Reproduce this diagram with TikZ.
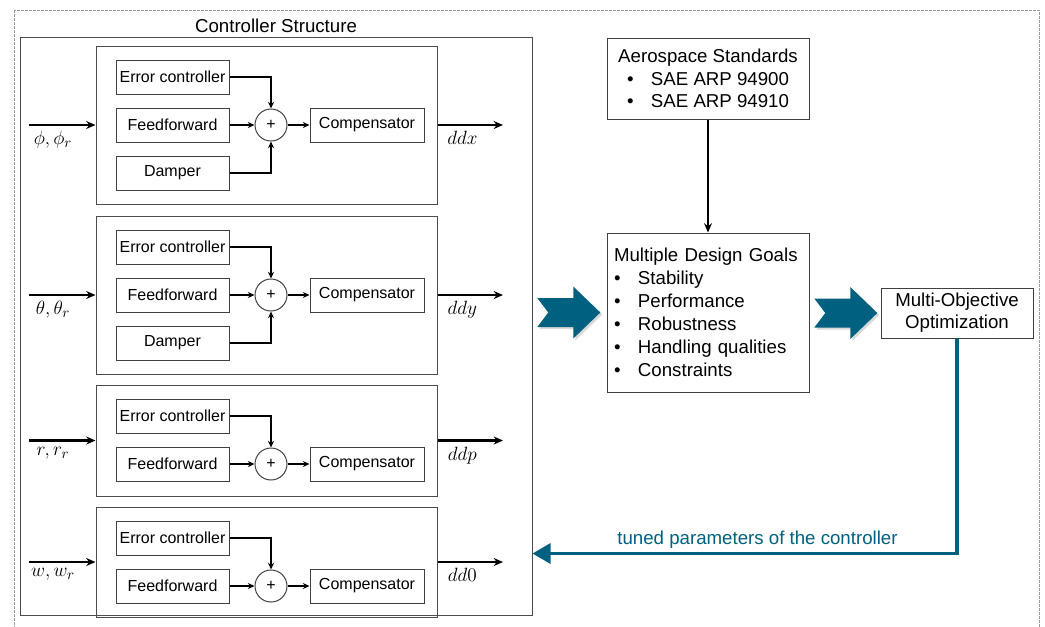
\documentclass[tikz,border=0pt]{standalone}
\usepackage{fontspec}
\setmainfont{Liberation Sans}
\usetikzlibrary{arrows.meta,shadows}
\definecolor{optblue}{HTML}{00607F}
\newcommand{\itembul}{\makebox[18pt][l]{\textbullet}}

\begin{document}
\begin{tikzpicture}[x=0.75pt,y=-0.75pt,>=Stealth,
  blk/.style={draw=black!75,line width=0.75pt,minimum width=84.75pt,minimum height=25.5pt,inner sep=1pt,font=\fontsize{12}{15}\selectfont},
  sumnode/.style={circle,draw=black!75,line width=0.75pt,minimum size=24pt,inner sep=0pt,font=\fontsize{12}{15}\selectfont},
  chanbox/.style={draw=black!70,line width=0.75pt,minimum width=255.75pt},
  bigbox/.style={draw=black!75,line width=0.75pt,font=\fontsize{14}{17}\selectfont},
  sig/.style={-{Stealth[length=5pt,width=4.5pt]},line width=1.1pt},
  io/.style={-{Stealth[length=7pt,width=6pt]},line width=1.6pt},
  lbl/.style={below,inner sep=4pt,font=\fontsize{15}{17}\selectfont},
  chevron/.style={fill=optblue,drop shadow={opacity=0.3,shadow xshift=1.5pt,shadow yshift=-1.5pt}},
  fbline/.style={draw=optblue,line width=2.4pt,-{Triangle[length=13.5pt,width=15pt]}}]
  \useasboundingbox (0,0) rectangle (1045,626);

  % outer frame
  \draw[black!40,line width=0.75pt,dash pattern=on 2pt off 1pt] (14,10) rectangle (1039,632);

  % Controller structure
  \node[draw=black!70,line width=0.75pt,minimum width=384pt,minimum height=433.5pt] (ctrl) at (276,326) {};
  \node[above,inner sep=3pt,font=\fontsize{14}{17}\selectfont] (ctrltitle) at (ctrl.north) {Controller Structure};

  \foreach \i/\yt/\h/\inl/\outl in {1/46/158/{\phi,\phi_r}/ddx,2/216/158/{\theta,\theta_r}/ddy,3/385/111/{r,r_r}/ddp,4/507/110/{w,w_r}/dd0} {
    \node[chanbox,minimum height=\h*0.75pt] (ch\i) at (266.5,{\yt+\h/2}) {};
    \node[blk] (ec\i) at (172.5,{\yt+31}) {Error controller};
    \node[blk] (ff\i) at (172.5,{\yt+79}) {Feedforward};
    \node[sumnode] (sum\i) at (271,{\yt+79}) {+};
    \node[blk,minimum width=85.5pt] (comp\i) at (367,{\yt+79}) {Compensator};
    \draw[sig] (ec\i.east) -| (sum\i.north);
    \draw[sig] (ff\i) -- (sum\i);
    \draw[sig] (sum\i) -- (comp\i);
    \ifnum\i<3
      \node[blk] (dmp\i) at (172.5,{\yt+127}) {Damper};
      \draw[sig] (dmp\i.east) -| (sum\i.south);
    \fi
    \coordinate (in\i) at (29,{\yt+\h/2});
    \coordinate (out\i) at (503,{\yt+\h/2});
    \draw[io] (in\i) -- (ch\i.west) node[lbl,pos=0.36] {$\inl$};
    \draw[io] (ch\i.east) -- (out\i) node[lbl,pos=0.38] {$\outl$};
  }

  % Design side
  \node[bigbox,align=center,minimum width=151.5pt,minimum height=60.75pt] (aero) at (708,78.5)
  {Aerospace Standards\\\itembul SAE ARP 94900\\\itembul SAE ARP 94910};
  \node[bigbox,align=left,text width=141pt,inner xsep=5.25pt,minimum height=119.25pt,font=\fontsize{14}{17.25}\selectfont] (mdg) at (708,312.5)
  {Multiple Design Goals\\\itembul Stability\\\itembul Performance\\\itembul Robustness\\\itembul Handling qualities\\\itembul Constraints};
  \node[bigbox,align=center,minimum width=114pt,minimum height=37.5pt,font=\fontsize{14}{16.5}\selectfont] (moo) at (957,313)
  {Multi-Objective\\Optimization};
  \draw[-{Stealth[length=7pt,width=6pt]},line width=1.1pt] (aero) -- (mdg);

  % big arrows
  \foreach \a/\b in {ctrl/mdg,mdg/moo} {
    \coordinate (s\a) at ([xshift=3.6pt]\a.east |- \b.west);
    \fill[chevron,shift={(s\a)}] (0,-14.5) -- (36,-14.5) -- (36,-26) -- (63,0) -- (36,26) -- (36,14.5) -- (0,14.5) -- (11,0) -- cycle;
  }

  % feedback
  \coordinate (fbcorner) at ([yshift=-161.25pt]moo.south);
  \draw[fbline] (moo.south) -- (fbcorner) -- (fbcorner -| ctrl.east)
    node[pos=0.47,above,inner sep=3pt,text=optblue,font=\fontsize{14}{17}\selectfont] {tuned parameters of the controller};
\end{tikzpicture}
\end{document}
